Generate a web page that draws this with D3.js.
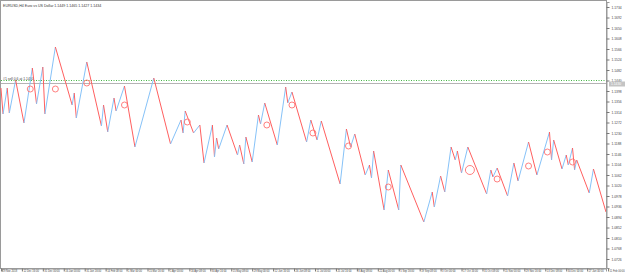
<!DOCTYPE html>
<html>
<head>
<meta charset="utf-8">
<script src="https://cdn.jsdelivr.net/npm/d3@7/dist/d3.min.js"></script>
<style>
  body { margin: 0; background: #fff; }
  svg { display: block; font-family: "Liberation Sans", Arial, sans-serif; }
</style>
</head>
<body>
<svg id="chart" width="625" height="275"></svg>
<script>
// zigzag turning points: bar number and price
const bars = [0, 1, 3, 4, 7, 11, 15, 17, 20, 21, 26, 34, 35, 36, 41, 48, 49, 51, 54, 55,
  59, 64, 73, 81, 86, 87, 88, 92, 95, 97, 101, 102, 103, 104, 108, 113, 114, 116, 117, 120,
  123, 124, 126, 132, 136, 137, 139, 146, 148, 151, 153, 162, 165, 167, 169, 174, 176, 177, 178, 183,
  185, 190, 191, 202, 206, 207, 210, 212, 215, 217, 218, 220, 223, 232, 234, 235, 237, 242, 245, 247,
  252, 256, 262, 263, 264, 268, 270, 271, 273, 274, 275, 281, 283, 289];
const prices = [1.1410, 1.1306, 1.1410, 1.1310, 1.1442, 1.1270, 1.1490, 1.1346, 1.1494, 1.1306,
  1.1574, 1.1342, 1.1390, 1.1290, 1.1514, 1.1258, 1.1342, 1.1234, 1.1370, 1.1318,
  1.1418, 1.1174, 1.1450, 1.1186, 1.1282, 1.1230, 1.1318, 1.1230, 1.1262, 1.1110,
  1.1262, 1.1134, 1.1210, 1.1166, 1.1262, 1.1142, 1.1182, 1.1106, 1.1214, 1.1114,
  1.1302, 1.1266, 1.1350, 1.1182, 1.1414, 1.1350, 1.1394, 1.1194, 1.1282, 1.1202,
  1.1278, 1.1026, 1.1246, 1.1174, 1.1226, 1.1062, 1.1102, 1.1050, 1.1158, 1.0922,
  1.1082, 1.0922, 1.1102, 1.0874, 1.0994, 1.0934, 1.1058, 1.0994, 1.1174, 1.1122,
  1.1158, 1.1070, 1.1174, 1.0986, 1.1082, 1.1054, 1.1090, 1.0978, 1.1110, 1.1038,
  1.1194, 1.1062, 1.1234, 1.1122, 1.1202, 1.1086, 1.1142, 1.1102, 1.1170, 1.1082,
  1.1122, 1.0990, 1.1086, 1.0914];

// little circle markers
const circleBars = [14, 26, 41, 59, 89, 127, 139, 149, 166, 185, 224, 237, 252, 261, 273];
const circlePrices = [1.1406, 1.1406, 1.1430, 1.1342, 1.1274, 1.1262, 1.1342, 1.1230, 1.1178, 1.1014,
  1.1082, 1.1046, 1.1098, 1.1154, 1.1114];
const circleSizes = [3, 3, 3, 3, 3, 3, 3, 3, 3, 3, 4.5, 3, 3, 3, 3];

const yTicks = [1.1734, 1.1692, 1.1650, 1.1608, 1.1566, 1.1524, 1.1482, 1.1440, 1.1398, 1.1356,
  1.1314, 1.1272, 1.1230, 1.1188, 1.1146, 1.1104, 1.1062, 1.1020, 1.0978, 1.0936,
  1.0894, 1.0852, 1.0810, 1.0768, 1.0726];
const xTickBars = [0, 10, 20, 30, 40, 50, 60, 70, 80, 90, 100, 110, 120, 130, 140,
  150, 160, 170, 180, 190, 200, 210, 220, 230, 240, 250, 260, 270, 280, 290];
const xTickLabels = ["29 Nov 2018", "12 Dec 16:00", "31 Dec 00:00", "16 Jan 00:00", "31 Jan 16:00",
  "14 Feb 08:00", "1 Mar 00:00", "15 Mar 16:00", "1 Apr 00:00", "16 Apr 08:00",
  "30 Apr 16:00", "15 May 08:00", "29 May 00:00", "12 Jun 16:00", "26 Jun 08:00",
  "11 Jul 00:00", "25 Jul 16:00", "8 Aug 08:00", "22 Aug 00:00", "5 Sep 16:00",
  "19 Sep 08:00", "3 Oct 00:00", "17 Oct 16:00", "31 Oct 08:00", "15 Nov 00:00",
  "29 Nov 16:00", "13 Dec 08:00", "30 Dec 00:00", "27 Jan 00:00", "11 Feb 00:00"];

const title = "EURUSD,H4  Euro vs US Dollar  1.1449 1.1465 1.1427 1.1434";
const levelPrice = 1.1441;
const orderPrice = 1.1430;
const orderLabel = "#1 sell 0.6 at 1.1430";

const plotLeft = 2, plotRight = 606, plotTop = 2, plotBottom = 268;

const x = d3.scaleLinear().domain([0.5, 289]).range([plotLeft, plotRight]);
const y = d3.scaleLinear().domain([1.0690, 1.1754]).range([plotBottom, plotTop]);

const svg = d3.select("#chart");

svg.append("clipPath").attr("id", "plot")
  .append("rect")
  .attr("x", 0).attr("y", 0)
  .attr("width", plotRight).attr("height", plotBottom);

// frame
svg.append("rect")
  .attr("x", 0.5).attr("y", 0.5)
  .attr("width", plotRight).attr("height", plotBottom)
  .attr("fill", "none")
  .attr("stroke", "#9a9a9a");

// level lines
svg.append("line")
  .attr("x1", 1).attr("x2", plotRight)
  .attr("y1", Math.round(y(levelPrice)) + 0.5).attr("y2", Math.round(y(levelPrice)) + 0.5)
  .attr("stroke", "#44b844")
  .attr("stroke-dasharray", "1,1.5");

svg.append("line")
  .attr("x1", 1).attr("x2", plotRight)
  .attr("y1", Math.round(y(orderPrice)) + 0.5).attr("y2", Math.round(y(orderPrice)) + 0.5)
  .attr("stroke", "#b4b4b4");

svg.append("text")
  .attr("x", 3).attr("y", y(orderPrice) - 3.5)
  .attr("font-size", 3.4)
  .attr("fill", "#444")
  .text(orderLabel);

// zigzag
const points = bars.map((b, i) => ({ bar: b, price: prices[i] }));
const segs = d3.pairs(points);

svg.append("g")
  .attr("clip-path", "url(#plot)")
  .selectAll("line")
  .data(segs)
  .enter()
  .append("line")
  .attr("x1", d => x(d[0].bar))
  .attr("y1", d => y(d[0].price))
  .attr("x2", d => x(d[1].bar))
  .attr("y2", d => y(d[1].price))
  .attr("stroke", d => d[1].price > d[0].price ? "#86c2f8" : "#ff5f5f")
  .attr("stroke-width", 1);

svg.append("g")
  .selectAll("circle")
  .data(circleBars)
  .enter()
  .append("circle")
  .attr("cx", d => x(d))
  .attr("cy", (d, i) => y(circlePrices[i]))
  .attr("r", (d, i) => circleSizes[i])
  .attr("fill", "none")
  .attr("stroke", "#ff7070")
  .attr("stroke-width", 0.9);

// axes
const yAxis = svg.append("g")
  .attr("transform", `translate(${plotRight + 0.5},0)`)
  .call(d3.axisRight(y).tickValues(yTicks).tickSize(3).tickFormat(d3.format(".4f")));
yAxis.select(".domain").attr("stroke", "#9a9a9a");
yAxis.selectAll(".tick line").attr("stroke", "#777");
yAxis.selectAll("text")
  .attr("font-size", 3.3)
  .attr("font-family", "Liberation Sans, Arial, sans-serif")
  .attr("fill", "#444")
  .attr("x", 5);

const xAxis = svg.append("g")
  .attr("transform", `translate(0,${plotBottom + 0.5})`)
  .call(d3.axisBottom(x).tickValues(xTickBars).tickSize(3).tickFormat((d, i) => xTickLabels[i]));
xAxis.select(".domain").attr("stroke", "#9a9a9a");
xAxis.selectAll(".tick line").attr("stroke", "#777");
xAxis.selectAll("text")
  .attr("font-size", 2.6)
  .attr("font-family", "Liberation Sans, Arial, sans-serif")
  .attr("fill", "#444")
  .attr("text-anchor", "start")
  .attr("x", 1)
  .attr("y", 1.5);

// price tag of the order line
svg.append("rect")
  .attr("x", plotRight + 3).attr("y", y(orderPrice) - 1.5)
  .attr("width", 16).attr("height", 5)
  .attr("fill", "#c4c4c4");
svg.append("text")
  .attr("x", plotRight + 5).attr("y", y(orderPrice) + 2.4)
  .attr("font-size", 3.3)
  .attr("fill", "#fff")
  .text(d3.format(".4f")(orderPrice));

svg.append("text")
  .attr("x", 3).attr("y", 6.5)
  .attr("font-size", 3.6)
  .attr("fill", "#333")
  .text(title);
</script>
</body>
</html>
